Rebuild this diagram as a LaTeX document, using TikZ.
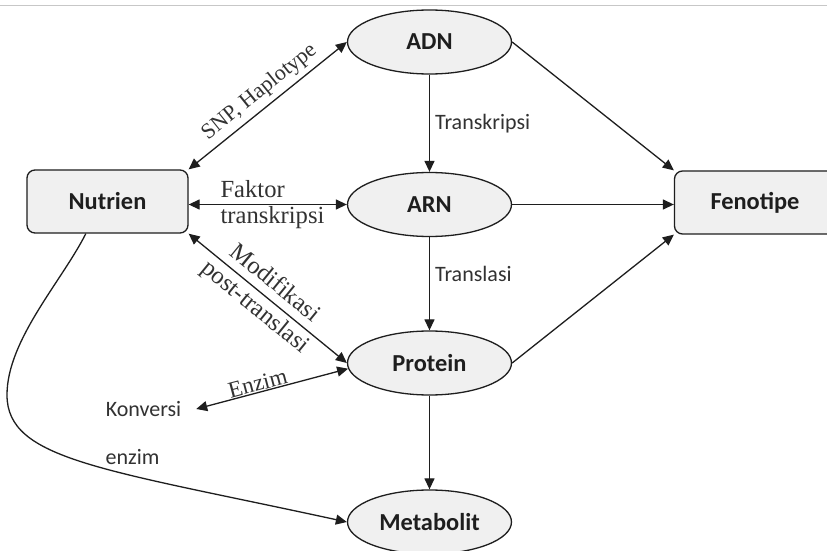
\documentclass[tikz,border=0pt]{standalone}
\usepackage{fontspec}
\setmainfont{Liberation Serif}
\newfontfamily\carl{Carlito}
\usetikzlibrary{shapes.geometric,arrows.meta}
\definecolor{boxfill}{RGB}{240,240,240}
\definecolor{ink}{RGB}{30,30,30}
\definecolor{lbl}{RGB}{50,50,50}
\begin{document}
\begin{tikzpicture}[x=0.5pt,y=-0.5pt,
  line width=0.65pt,
  >={Triangle[length=5.5pt,width=5pt]},
  ell/.style={ellipse,draw=ink,fill=boxfill,minimum width=82pt,minimum height=32pt,inner sep=0pt,text=ink,font=\carl\bfseries\fontsize{12.2}{14}\selectfont},
  rbox/.style={rectangle,rounded corners=4pt,draw=ink,fill=boxfill,minimum width=80.5pt,minimum height=31.5pt,inner sep=0pt,text=ink,font=\carl\bfseries\fontsize{12.2}{14}\selectfont},
  conn/.style={draw=ink},
  sanslbl/.style={text=lbl,font=\carl\fontsize{11}{13}\selectfont},
  seriflbl/.style={text=lbl,font=\fontsize{12.3}{15}\selectfont},
]
\useasboundingbox (0,0) rectangle (827,551);
\clip (0,0) rectangle (827,551);
\fill[white] (0,0) rectangle (827,551);
\draw[line width=0.5pt,black!22] (0,6) -- (827,6);

% nodes
\node[rbox] (nut) at (107.5,201.5) {Nutrien};
\node[rbox] (fen) at (755,202.5) {Fenotipe};
\node[ell] (adn) at (429.5,42) {ADN};
\node[ell] (arn) at (429.5,204.5) {ARN};
\node[ell] (prot) at (429.5,363) {Protein};
\node[ell] (met) at (429.5,522) {Metabolit};
\node[sanslbl,inner sep=0pt,outer xsep=7.5pt] (konv) at (143.5,409) {Konversi};
\node[sanslbl,inner sep=0pt,anchor=west] (enz) at (105,457) {enzim};
\coordinate (bend) at (7,395);

% connectors
\draw[conn,<->] (nut.north east) -- node[sloped,above,inner sep=2.5pt,text=lbl,font=\fontsize{11}{13}\selectfont,pos=0.51] {SNP, Haplotype} (adn.west);
\draw[conn,<->] (nut.east |- arn.west) -- node[seriflbl,align=left,pos=0.53,font=\fontsize{12.3}{13}\selectfont] {Faktor\\transkripsi} (arn.west);
\draw[conn,<->] (nut.south east) -- node[sloped,align=center,pos=0.48,text=lbl,font=\fontsize{12.3}{15.5}\selectfont] {Modifikasi\\post-translasi} (prot.west);
\draw[conn,<->] (konv.east) -- node[sloped,above,inner sep=0.5pt,text=lbl,font=\fontsize{11.5}{13}\selectfont,pos=0.42] {Enzim} (prot.184);
\draw[conn,->] (adn) -- node[sanslbl,right,inner sep=2.5pt] {Transkripsi} (arn);
\draw[conn,->] (arn) -- node[sanslbl,right,inner sep=2.5pt,pos=0.4] {Translasi} (prot);
\draw[conn,->] (prot) -- (met);
\draw[conn,->] (adn.east) -- (fen.north west);
\draw[conn,->] (arn.east) -- (arn.east -| fen.west);
\draw[conn,->] (prot.east) -- (fen.south west);
\draw[conn,->] (nut.236) .. controls (62,281) and (7,340) .. (bend)
  .. controls (7,460) and (103,469) .. (met.west);
\end{tikzpicture}
\end{document}
